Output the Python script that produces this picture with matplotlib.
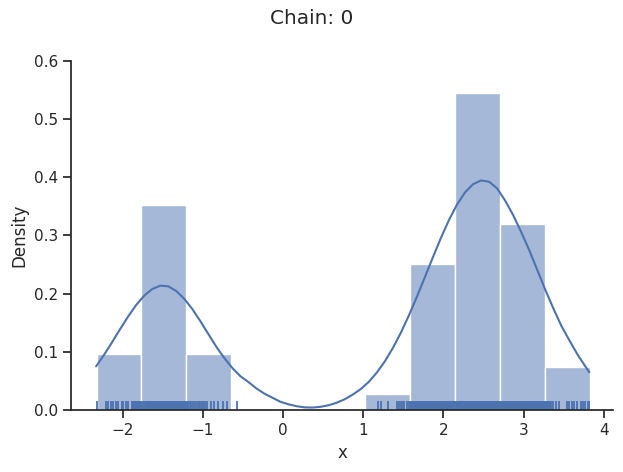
import numpy as np
import matplotlib
matplotlib.use("Agg")
import matplotlib.pyplot as plt
import seaborn as sns

# ---- data ----
bin_edges = [-2.325, -1.766, -1.207, -0.648, -0.089, 0.470, 1.029, 1.588,
             2.147, 2.705, 3.264, 3.822]
densities = [0.0958, 0.3524, 0.0958, 0.0018, 0.0, 0.0, 0.0270, 0.2505,
             0.5450, 0.3192, 0.0734]

kde_x = [-2.33, -2.23, -2.13, -2.03, -1.93, -1.83, -1.73, -1.63, -1.53,
         -1.43, -1.33, -1.23, -1.13, -1.03, -0.93, -0.83, -0.73, -0.63,
         -0.53, -0.43, -0.33, -0.23, -0.13, -0.03, 0.07, 0.17, 0.27, 0.37,
         0.47, 0.57, 0.67, 0.77, 0.87, 0.97, 1.07, 1.17, 1.27, 1.37, 1.47,
         1.57, 1.67, 1.77, 1.87, 1.97, 2.07, 2.17, 2.27, 2.37, 2.47, 2.57,
         2.67, 2.77, 2.87, 2.97, 3.07, 3.17, 3.27, 3.37, 3.47, 3.57, 3.67,
         3.77, 3.82]
kde_y = [0.0750, 0.0950, 0.1167, 0.1392, 0.1609, 0.1806, 0.1966, 0.2080,
         0.2137, 0.2127, 0.2045, 0.1910, 0.1735, 0.1527, 0.1305, 0.1085,
         0.0890, 0.0720, 0.0580, 0.0480, 0.0370, 0.0280, 0.0210, 0.0140,
         0.0098, 0.0065, 0.0045, 0.0042, 0.0055, 0.0082, 0.0125, 0.0185,
         0.0265, 0.0360, 0.0484, 0.0643, 0.0836, 0.1065, 0.1329, 0.1625,
         0.1947, 0.2286, 0.2628, 0.2960, 0.3267, 0.3532, 0.3741, 0.3882,
         0.3946, 0.3925, 0.3810, 0.3600, 0.3350, 0.3060, 0.2750, 0.2410,
         0.2070, 0.1750, 0.1450, 0.1200, 0.0960, 0.0750, 0.0650]

rug_left = [-2.323, -2.207, -2.178, -2.149, -2.116, -2.082, -2.057, -2.011,
            -1.991, -1.958, -1.929, -1.887,
            -1.868, -1.855, -1.843, -1.829, -1.817, -1.804, -1.790, -1.778,
            -1.765, -1.752, -1.739, -1.727, -1.714, -1.701, -1.688, -1.676,
            -1.663, -1.650, -1.637, -1.624, -1.612, -1.599, -1.586, -1.573,
            -1.561, -1.548, -1.535, -1.522, -1.510, -1.497, -1.484, -1.471,
            -1.459, -1.446, -1.433, -1.420, -1.408, -1.395, -1.382, -1.369,
            -1.357, -1.344, -1.331, -1.318, -1.306, -1.293, -1.280, -1.267,
            -1.255, -1.242, -1.229, -1.216, -1.204, -1.191, -1.178, -1.165,
            -1.145, -1.118, -1.097, -1.077, -1.052, -1.031, -1.014, -0.993,
            -0.973, -0.944, -0.902, -0.860, -0.807, -0.752, -0.694, -0.574]
rug_right = [1.189, 1.222, 1.313, 1.418, 1.450, 1.467, 1.492, 1.513, 1.542,
             1.571,
             1.584, 1.597, 1.609, 1.622, 1.634, 1.647, 1.659, 1.672, 1.684,
             1.697, 1.709, 1.722, 1.734, 1.747, 1.759, 1.772, 1.784, 1.797,
             1.809, 1.822, 1.834, 1.847, 1.859, 1.872, 1.884, 1.897, 1.909,
             1.922, 1.934, 1.947, 1.959, 1.972, 1.984, 1.997, 2.009, 2.022,
             2.034, 2.047, 2.059, 2.072, 2.084, 2.097, 2.109, 2.122, 2.134,
             2.147, 2.159, 2.172, 2.184, 2.197, 2.209, 2.222, 2.234, 2.247,
             2.259, 2.272, 2.284, 2.297, 2.309, 2.322, 2.334, 2.347, 2.359,
             2.372, 2.384, 2.397, 2.409, 2.422, 2.434, 2.447, 2.459, 2.472,
             2.484, 2.497, 2.509, 2.522, 2.534, 2.547, 2.559, 2.572, 2.584,
             2.597, 2.609, 2.622, 2.634, 2.647, 2.659, 2.672, 2.684, 2.697,
             2.709, 2.722, 2.734, 2.747, 2.759, 2.772, 2.784, 2.797, 2.809,
             2.822, 2.834, 2.847, 2.859, 2.872, 2.884, 2.897, 2.909, 2.922,
             2.934, 2.947, 2.959, 2.972, 2.984, 2.997, 3.009, 3.022, 3.034,
             3.047, 3.059, 3.072, 3.084, 3.097, 3.109, 3.122, 3.134, 3.147,
             3.159, 3.172, 3.184, 3.197, 3.209, 3.222, 3.234, 3.247, 3.259,
             3.272, 3.284, 3.297, 3.309, 3.322, 3.334, 3.347,
             3.370, 3.404, 3.445, 3.537, 3.570, 3.600, 3.632, 3.662, 3.712,
             3.737, 3.769, 3.807, 3.820]

title = "Chain: 0"
xlabel = "x"
ylabel = "Density"

# ---- drawing ----
sns.set_theme(style="ticks")
plt.rcParams["font.family"] = ["DejaVu Sans"]

blue = "#4C72B0"
fig = plt.figure(figsize=(6.23, 4.72), dpi=100)
ax = fig.add_axes([71 / 623, 1 - 410 / 472, (613 - 71) / 623, (410 - 61) / 472])

edges = np.array(bin_edges)
ax.bar(edges[:-1], densities, width=np.diff(edges), align="edge",
       facecolor=matplotlib.colors.to_rgba(blue, 0.5), edgecolor="white",
       linewidth=1.0)
ax.plot(kde_x, kde_y, color=blue, linewidth=1.5)
rug = rug_left + rug_right
ax.vlines(rug, 0, 0.025, transform=ax.get_xaxis_transform(), color=blue,
          linewidth=1.3)

ax.set_xlim(-2.643, 4.115)
ax.set_ylim(0, 0.6)
ax.set_xticks([-2, -1, 0, 1, 2, 3, 4])
ax.set_yticks([0.0, 0.1, 0.2, 0.3, 0.4, 0.5, 0.6])
ax.set_xlabel(xlabel)
ax.set_ylabel(ylabel)
sns.despine(ax=ax)
fig.suptitle(title)

fig.savefig("out.png", dpi=100)
